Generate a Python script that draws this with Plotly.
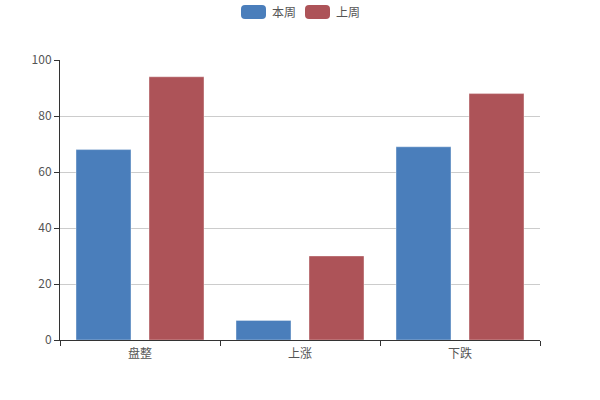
import plotly.graph_objects as go

categories = ["盘整", "上涨", "下跌"]
this_week = [68, 7, 69]
last_week = [94, 30, 88]
series_names = ["本周", "上周"]
colors = ["#4a7ebb", "#ad5358"]
y_ticks = [0, 20, 40, 60, 80, 100]

FONT = "Noto Sans CJK SC, Microsoft YaHei, sans-serif"
TXT = "#555"

fig = go.Figure()
for name, vals, c in zip(series_names, [this_week, last_week], colors):
    fig.add_trace(go.Bar(
        x=categories, y=vals, name=name,
        marker=dict(color=c, line=dict(color="rgba(255,255,255,0.35)", width=1)),
        showlegend=False,
    ))

# custom legend with rounded icons
W, H = 600, 400
ml, mr, mt, mb = 60, 60, 60, 60
pw, ph = W - ml - mr, H - mt - mb

def px2x(px):
    return (px - ml) / pw

def py2y(py):
    return (H - mb - py) / ph

def rrect(x0, y0, x1, y1, r):
    rx, ry = r / pw, r / ph
    X0, X1 = px2x(x0), px2x(x1)
    Y0, Y1 = py2y(y0), py2y(y1)  # Y0 top, Y1 bottom
    return (f"M {X0+rx},{Y0} L {X1-rx},{Y0} Q {X1},{Y0} {X1},{Y0-ry} "
            f"L {X1},{Y1+ry} Q {X1},{Y1} {X1-rx},{Y1} L {X0+rx},{Y1} "
            f"Q {X0},{Y1} {X0},{Y1+ry} L {X0},{Y0-ry} Q {X0},{Y0} {X0+rx},{Y0} Z")

shapes = []
annotations = []
legend_x = [241, 305]
for i, (name, c) in enumerate(zip(series_names, colors)):
    x0 = legend_x[i]
    shapes.append(dict(type="path", xref="paper", yref="paper",
                       path=rrect(x0, 5, x0 + 25, 19, 4),
                       fillcolor=c, line=dict(width=0)))
    annotations.append(dict(xref="paper", yref="paper", x=px2x(x0 + 29), y=py2y(12),
                            text=name, showarrow=False, xanchor="left", yanchor="middle",
                            font=dict(size=12, color=TXT, family=FONT)))

fig.update_layout(
    width=W, height=H,
    margin=dict(l=ml, r=mr, t=mt, b=mb),
    paper_bgcolor="white", plot_bgcolor="white",
    barmode="group", bargap=0.0875, bargroupgap=0.247,
    font=dict(family=FONT, size=12, color=TXT),
    shapes=shapes, annotations=annotations,
    xaxis=dict(
        showline=True, linecolor="#333", linewidth=1,
        ticks="outside", ticklen=5, tickcolor="#333", tickson="boundaries",
        showgrid=False, tickfont=dict(size=12, color=TXT), ticklabelstandoff=3,
    ),
    yaxis=dict(
        range=[0, 100], tickvals=y_ticks,
        showline=True, linecolor="#333", linewidth=1,
        ticks="outside", ticklen=5, tickcolor="#333",
        showgrid=True, gridcolor="#ccc", gridwidth=1,
        zeroline=False, tickfont=dict(size=12, color=TXT),
    ),
)

fig.write_html("out.html", config={"displayModeBar": False},
               post_script="document.body.style.margin='0';")
